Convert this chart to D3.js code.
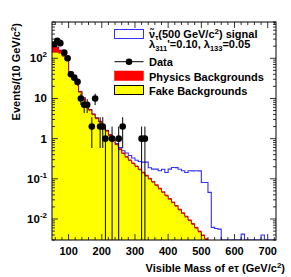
<!DOCTYPE html>
<html><head><meta charset="utf-8">
<script src="https://cdn.jsdelivr.net/npm/d3@7"></script>
<style>
body{margin:0;background:#fff}
svg{display:block}
text{font-family:"Liberation Sans",Arial,Helvetica,sans-serif;font-weight:bold;fill:#000}
</style>
</head><body>
<svg id="c" width="291" height="277"></svg>
<script>
// ---- data (10 GeV bins starting at 50 GeV) ----
const binStart = 50, binWidth = 10;
const fakeBg = [140,140,132,110,86,45,31,21.6,14.1,9.9,
  7.0,5.0,3.85,3.1,2.54,1.9,1.5,1.17,0.92,0.69,
  0.53,0.42,0.34,0.28,0.235,0.198,0.165,0.138,0.116,0.097,
  0.081,0.067,0.055,0.045,0.037,0.0305,0.025,0.0204,0.0166,0.0135,
  0.011,0.0089,0.0072,0.0058,0.0047,0.0038,0.003];
const physBg = [60,50,25,8,3,2,1.5,1.1,0.7,0.5,
  0.35,0.26,0.2,0.16,0.13,0.1,0.08,0.06,0.045,0.035,
  0.028,0.022,0.018,0.015,0.012,0.01,0.009,0.008,0.007,0.006,
  0.005,0.004,0.0033,0.0027,0.0022,0.0018,0.0015,0.0012,0.001,0.0008,
  0.0007,0.0006,0.0005,0.0004,0.0003,0.0002,0.0002];
const signal = [0.02,0.02,0.02,0.022,0.022,0.024,0.024,0.026,0.026,0.028,
  0.028,0.03,0.03,0.03,0.032,0.032,0.034,0.034,0.034,0.034,
  0.042,0.058,0.082,0.085,0.083,0.082,0.096,0.114,0.137,
  0.086,0.088,0.103,0.1,0.126,0.105,0.142,0.164,0.168,0.156,0.144,0.132,0.149,0.15,0.152,0.153,
  0.077,0.078,0.046,0.0062,0.0058,0.0056,
  0,0,0,0,0,0,
  0.0042,
  0,0,0,0,0,
  0.004,
  0,0,0];
const dataMass  = [57,66,75,87,97,107,117,127,137,147,156,170,180,195,203,211,231,251,263,320,330];
const dataCount = [224,271,238,139,100,40,33,26,10,7,7,2,10,2,2,1,1,1,2,1,1];
const xTicks = [100,200,300,400,500,600,700];
const yTicks = [0.01,0.1,1,10,100];
const yTickExp = ["-2","-1","","","2"];

// ---- layout ----
const L=52, R=276, T=22, B=240;
const svg = d3.select("#c");
const x = d3.scaleLinear().domain([50,725]).range([L,R]);
const y = d3.scaleLog().domain([0.003,800]).range([B,T]).clamp(true);
const yy = v => y(Math.max(v,1e-6));

svg.append("defs").append("clipPath").attr("id","clip")
  .append("rect").attr("x",L).attr("y",T).attr("width",R-L).attr("height",B-T);
const g = svg.append("g").attr("clip-path","url(#clip)");

function stepPts(vals){
  const pts=[];
  vals.forEach((v,i)=>{
    const x0=x(binStart+i*binWidth), x1=x(binStart+(i+1)*binWidth);
    pts.push([x0,yy(v)],[x1,yy(v)]);
  });
  return pts;
}
function areaPath(vals){
  const pts=stepPts(vals);
  return "M"+pts[0][0]+","+B+"L"+pts.map(p=>p.join(",")).join("L")+"L"+pts[pts.length-1][0]+","+B+"Z";
}
function linePath(vals){
  const pts=stepPts(vals);
  return "M"+pts.map(p=>p.join(",")).join("L");
}
const totalBg = fakeBg.map((v,i)=>v+physBg[i]);
const sigTot = signal.map((s,i)=>s+(totalBg[i]||0));

// signal (stacked on background), drawn underneath
g.append("path").attr("d",linePath(sigTot)).attr("fill","none").attr("stroke","#3030ff").attr("stroke-width",1.1);
// physics backgrounds (red) stacked on fake
g.append("path").attr("d",areaPath(totalBg)).attr("fill","#ff0000").attr("stroke","none");
g.append("path").attr("d",areaPath(fakeBg)).attr("fill","#ffff00").attr("stroke","none");
g.append("path").attr("d",linePath(totalBg)).attr("fill","none").attr("stroke","#e00000").attr("stroke-width",0.9);
g.append("path").attr("d",linePath(fakeBg)).attr("fill","none").attr("stroke","#000").attr("stroke-width",0.7).attr("stroke-dasharray","1,1.5").attr("opacity",0.7);

// data with Poisson error bars
dataMass.forEach((m,i)=>{
  const n=dataCount[i], e=Math.sqrt(n);
  g.append("line").attr("x1",x(m)).attr("x2",x(m))
    .attr("y1",yy(n+e)).attr("y2",yy(n-e)).attr("stroke","#000").attr("stroke-width",1);
});
g.selectAll("circle.d").data(dataMass).join("circle")
  .attr("cx",d=>x(d)).attr("cy",(d,i)=>yy(dataCount[i])).attr("r",3.3).attr("fill","#000");

// frame
svg.append("rect").attr("x",L).attr("y",T).attr("width",R-L).attr("height",B-T)
  .attr("fill","none").attr("stroke","#000").attr("stroke-width",1);

// ticks
const tk = svg.append("g").attr("stroke","#000").attr("stroke-width",0.8);
d3.range(60,725,20).forEach(v=>{
  const major = v%100===0, len = major?6:3;
  tk.append("line").attr("x1",x(v)).attr("x2",x(v)).attr("y1",B).attr("y2",B-len);
  tk.append("line").attr("x1",x(v)).attr("x2",x(v)).attr("y1",T).attr("y2",T+len);
});
for(let e=-3;e<=2;e++){
  for(let k=1;k<=9;k++){
    const v=k*Math.pow(10,e);
    if(v<0.003||v>800) continue;
    const len = k===1?6:3;
    tk.append("line").attr("x1",L).attr("x2",L+len).attr("y1",y(v)).attr("y2",y(v));
    tk.append("line").attr("x1",R).attr("x2",R-len).attr("y1",y(v)).attr("y2",y(v));
  }
}

// x tick labels
svg.selectAll("text.xt").data(xTicks).join("text")
  .attr("x",d=>x(d)).attr("y",255).attr("text-anchor","middle").attr("font-size",11).text(d=>d);
// y tick labels
yTicks.forEach((v,i)=>{
  const t=svg.append("text").attr("x",47).attr("y",y(v)+4).attr("text-anchor","end").attr("font-size",11.5);
  if(v===1) t.text("1");
  else if(v===10) t.text("10");
  else { t.append("tspan").text("10"); t.append("tspan").attr("dy",-5).attr("font-size",8).text(yTickExp[i]); }
});

// axis titles
const xt=svg.append("text").attr("x",285).attr("y",271.5).attr("text-anchor","end").attr("font-size",11);
xt.append("tspan").text("Visible Mass of e\u03c4 (GeV/c");
xt.append("tspan").attr("dy",-4).attr("font-size",8).text("2");
xt.append("tspan").attr("dy",4).text(")");
const ytl=svg.append("text").attr("transform","translate(20,23) rotate(-90)").attr("text-anchor","end").attr("font-size",11);
ytl.append("tspan").text("Events/(10 GeV/c");
ytl.append("tspan").attr("dy",-4).attr("font-size",8).text("2");
ytl.append("tspan").attr("dy",4).text(")");

// legend
const lg=svg.append("g");
const bx0=114.5, bw=29;
lg.append("rect").attr("x",bx0).attr("y",29.5).attr("width",bw).attr("height",9).attr("fill","#fff").attr("stroke","#3030ff").attr("stroke-width",1);
const l1=lg.append("text").attr("x",149).attr("y",37.5).attr("font-size",11);
l1.append("tspan").text("\u03bd\u0303");
l1.append("tspan").attr("dy",2).attr("font-size",7).text("\u03c4");
l1.append("tspan").attr("dy",-2).text("(500 GeV/c");
l1.append("tspan").attr("dy",-4).attr("font-size",8).text("2");
l1.append("tspan").attr("dy",4).text(") signal");
const l2=lg.append("text").attr("x",149).attr("y",48).attr("font-size",11);
l2.append("tspan").text("\u03bb");
l2.append("tspan").attr("dy",3).attr("font-size",7.5).text("311");
l2.append("tspan").attr("dy",-3).text("'=0.10, \u03bb");
l2.append("tspan").attr("dy",3).attr("font-size",7.5).text("133");
l2.append("tspan").attr("dy",-3).text("=0.05");
lg.append("line").attr("x1",bx0).attr("x2",bx0+bw).attr("y1",61.7).attr("y2",61.7).attr("stroke","#000").attr("stroke-width",1);
lg.append("circle").attr("cx",bx0+bw/2).attr("cy",61.7).attr("r",3.3).attr("fill","#000");
lg.append("text").attr("x",149).attr("y",66).attr("font-size",11).text("Data");
lg.append("rect").attr("x",bx0).attr("y",71).attr("width",bw).attr("height",9.5).attr("fill","#ff0000").attr("stroke","#ff0000").attr("stroke-width",0.5);
lg.append("text").attr("x",149).attr("y",80.5).attr("font-size",11).text("Physics Backgrounds");
lg.append("rect").attr("x",bx0).attr("y",85.5).attr("width",bw).attr("height",9).attr("fill","#ffff00").attr("stroke","#000").attr("stroke-width",1);
lg.append("text").attr("x",149).attr("y",94.5).attr("font-size",11).text("Fake Backgrounds");
</script>
</body></html>
